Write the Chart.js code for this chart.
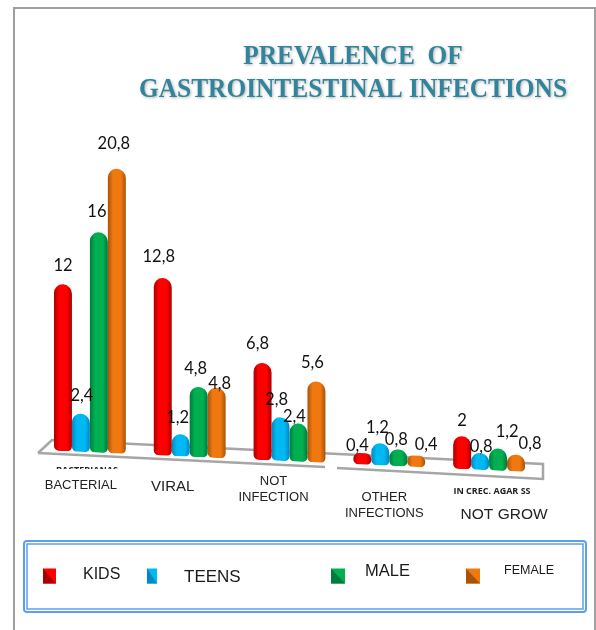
<!DOCTYPE html>
<html><head><meta charset="utf-8">
<style>html,body{margin:0;padding:0;background:#fff}canvas{display:block}</style>
<script src="https://cdn.jsdelivr.net/npm/chart.js@4"></script></head>
<body><div style="width:596px;height:630px"><canvas id="c" width="596" height="630"></canvas></div>
<script>
const categories = ["BACTERIAL","VIRAL",["NOT","INFECTION"],["OTHER","INFECTIONS"],"NOT GROW"];
const seriesNames = ["KIDS","TEENS","MALE","FEMALE"];
const kids = [12,12.8,6.8,0.4,2];
const teens = [2.4,1.2,2.8,1.2,0.8];
const male = [16,4.8,2.4,0.8,1.2];
const female = [20.8,4.8,5.6,0.4,0.8];
const titleLines = ["PREVALENCE  OF","GASTROINTESTINAL INFECTIONS"];
const colors = [
 {edge:"#a80000",mid:"#ff0000"},
 {edge:"#0088c4",mid:"#00b8f2"},
 {edge:"#007a3c",mid:"#00b050"},
 {edge:"#a85208",mid:"#f07810"}];
const SKEW = 0.045, SKEW_X0 = 60, BASE = -0.45;
const skewY = x => SKEW*(x-SKEW_X0);
const labelNudge = [
 [[0,3],[-4,1],[-5,3],[-5,14],[0,6]],
 [[1,4],[-3,5],[-4,4],[-3,6],[1,16]],
 [[-2,1],[-3,4],[-4,15],[-2,12],[9,5]],
 [[-3,-3],[3,18],[-4,3],[10,11],[14,11]]];
const tickOffsets = [{x:-9,y:485,size:13},{x:-17,y:487,size:15},{x:-16,y:481,size:13},{x:-5,y:497,size:13},{x:15,y:515,size:15.5}];
const legendItems = [
 {mx:43,mw:13,tx:83,ty:575,size:16},
 {mx:147,mw:10,tx:184,ty:577,size:17},
 {mx:331,mw:14,tx:365,ty:571,size:16.5},
 {mx:466,mw:14,tx:504,ty:571,size:12.5}];
function barGradient(ctx){
  const chart=ctx.chart, xs=chart.scales.x;
  const c=colors[ctx.datasetIndex];
  if(!xs||ctx.dataIndex===undefined) return c.mid;
  const groupW=xs.getPixelForValue(1)-xs.getPixelForValue(0);
  const w=groupW*0.72/4;
  const cx=xs.getPixelForValue(ctx.dataIndex)+(ctx.datasetIndex-1.5)*w;
  if(!isFinite(cx)||!isFinite(w)) return c.mid;
  const g=chart.ctx.createLinearGradient(cx-w/2,0,cx+w/2,0);
  g.addColorStop(0,c.edge);g.addColorStop(0.28,c.mid);g.addColorStop(0.72,c.mid);g.addColorStop(1,c.edge);
  return g;
}
const frame={id:"frame",beforeDraw(ch){const x=ch.ctx;x.save();x.fillStyle="#fff";x.fillRect(0,0,596,630);
  x.strokeStyle="#a0a0a0";x.lineWidth=2;x.beginPath();x.moveTo(14,630);x.lineTo(14,8);x.lineTo(595,8);x.lineTo(595,630);x.stroke();
  x.strokeStyle="#5b9ff0";x.lineWidth=2;x.beginPath();x.roundRect(24,541,562,71,3);x.stroke();x.lineWidth=1.5;x.strokeRect(27,544,556,65);
  // title
  x.fillStyle="#31849b";x.textAlign="center";x.textBaseline="middle";
  x.shadowColor="rgba(0,0,0,0.3)";x.shadowBlur=3;x.shadowOffsetX=1;x.shadowOffsetY=1;
  x.font="bold 27px 'Liberation Serif'";
  titleLines.forEach((t,i)=>{x.save();x.translate(353,57+i*33);x.scale(0.94,1);x.fillText(t,0,0);x.restore();});
  x.restore();}};
const floor={id:"floor",beforeDatasetsDraw(ch){const x=ch.ctx;x.save();
  x.strokeStyle="#a6a6a6";x.lineWidth=2.5;x.beginPath();
  x.moveTo(38,453);x.lineTo(52,440);x.lineTo(543,464);x.lineTo(543,479);x.lineTo(337,468);x.stroke();
  x.beginPath();x.moveTo(38,453);x.lineTo(325,467);x.stroke();
  x.restore();
  x.save();x.transform(1,SKEW,0,1,0,-SKEW*SKEW_X0);},
  afterDatasetsDraw(ch){const x=ch.ctx;x.restore();
  x.save();x.fillStyle="#111";x.textAlign="center";x.textBaseline="middle";x.font="16.5px Lato";
  ch.data.datasets.forEach((d,di)=>{ch.getDatasetMeta(di).data.forEach((el,i)=>{
    const n=labelNudge[di][i];
    x.fillText(String(d.data[i]).replace(".",","),el.x+n[0],el.y+skewY(el.x)-22+n[1]);});});
  x.restore();}};
const texts={id:"texts",afterDraw(ch){const x=ch.ctx,xs=ch.scales.x;x.save();
  x.fillStyle="#222";x.textAlign="center";x.textBaseline="middle";
  categories.forEach((c,i)=>{const o=tickOffsets[i];x.font=o.size+"px 'Liberation Sans'";
    const ls=Array.isArray(c)?c:[c];ls.forEach((l,k)=>x.fillText(l,xs.getPixelForValue(i)+o.x,o.y+k*16));});
  x.font="bold 9px 'Open Sans'";x.fillText("IN CREC. AGAR SS",492,491);
  x.save();x.beginPath();x.rect(40,460,100,9);x.clip();x.fillText("BACTERIANAS",87,470);x.restore();
  x.textAlign="left";
  seriesNames.forEach((n,i)=>{const o=legendItems[i];const my=576,h=15,c=colors[i];
    x.fillStyle=c.mid;x.fillRect(o.mx,my-h/2,o.mw,h);
    x.fillStyle=c.edge;x.beginPath();x.moveTo(o.mx,my-h/2);x.lineTo(o.mx+o.mw/2,my);x.lineTo(o.mx,my+h/2);x.closePath();x.fill();
    x.beginPath();x.moveTo(o.mx,my+h/2);x.lineTo(o.mx+o.mw/2,my);x.lineTo(o.mx+o.mw,my+h/2);x.closePath();x.fill();
    x.fillStyle="#1a1a1a";x.font=o.size+"px 'Liberation Sans'";x.fillText(n,o.tx,o.ty);});
  x.restore();}};
const series=[kids,teens,male,female];
new Chart(document.getElementById("c"),{type:"bar",
 data:{labels:categories.map(c=>Array.isArray(c)?c.join(" "):c),
  datasets:series.map((s,i)=>({label:seriesNames[i],data:s,base:BASE,backgroundColor:barGradient,
    borderRadius:{topLeft:9,topRight:9,bottomLeft:5,bottomRight:5},borderSkipped:false,
    barPercentage:1,categoryPercentage:0.72}))},
 options:{responsive:false,animation:false,
  layout:{padding:{left:40,right:57,top:100,bottom:179}},
  scales:{x:{display:false},y:{display:false,min:BASE,max:25.75}},
  plugins:{legend:{display:false},tooltip:{enabled:false},title:{display:false}}},
 plugins:[frame,floor,texts]});
</script></body></html>
